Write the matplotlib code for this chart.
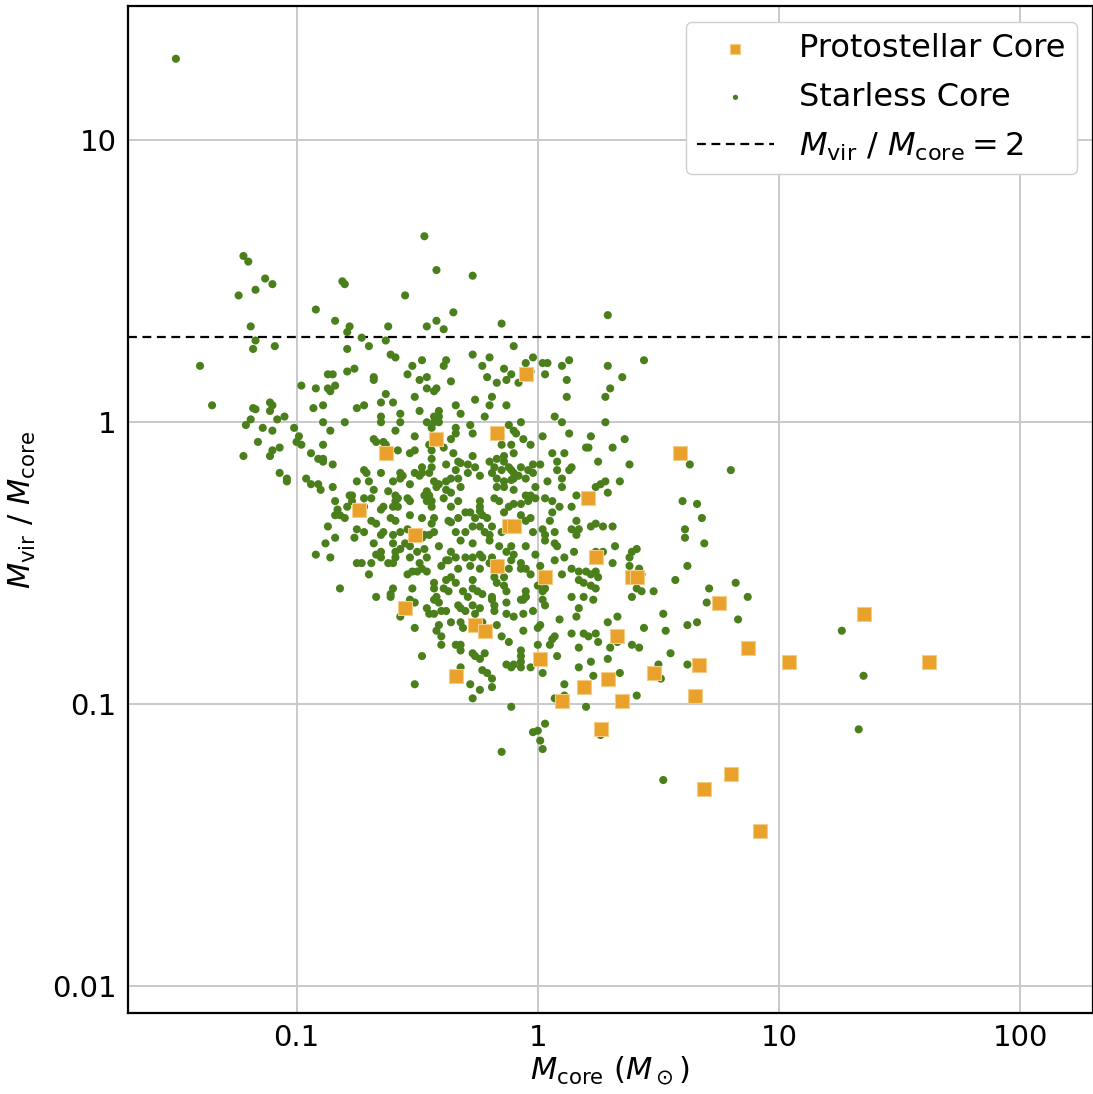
import numpy as np
import matplotlib
matplotlib.use("Agg")
import matplotlib.pyplot as plt

# log10 of core mass (Msun) and of M_vir / M_core
log_m_starless = [
    -1.50, -1.22, -1.20, -1.13, -1.10, -1.24, -1.17, -1.19, -1.17, -1.18,
    -1.09, -1.40, -0.92, -0.81, -0.80, -0.55, -0.84, -0.78, -0.79, -0.73,
    -0.62, -0.63, -0.70, -0.79, -0.61, -0.59, -0.52, -0.54, -0.87, -0.85,
    -0.79, -0.76, -0.68, -0.47, -0.42, -0.27, -0.35, -0.42, -0.46, -0.39,
    -0.15, 0.29, -0.10, -0.02, -0.27, -0.20, -0.48, -0.38, -0.39, -0.23,
    -0.14, -0.05, 0.02, 0.04, 0.10, 0.13, 0.29, 0.44, -0.46, -0.49,
    -0.36, -0.21, -0.11, -0.13, -0.17, -0.08, -0.03, 0.03, 0.12, 0.35,
    0.30, -0.46, -0.42, -0.43, -0.51, -0.19, -0.26, 0.12, 0.28, -1.35,
    -1.18, -1.17, -1.11, -1.10, -1.11, -1.05, -1.08, -1.19, -1.21, -1.14,
    -1.10, -1.01, -0.98, -0.92, -0.87, -0.86, -0.84, -0.93, -0.89, -0.75,
    -0.89, -0.80, -0.86, -0.99, -1.00, -0.98, -1.16, -0.89, -1.07, -1.10,
    -1.11, -1.22, -0.94, -0.91, -0.89, -0.89, -0.85, -1.07, -1.04, -1.04,
    -0.96, -0.94, -0.91, -0.90, -0.85, -0.75, -0.78, -0.77, -0.84, -0.77,
    -0.83, -0.79, -0.84, -0.82, -0.80, -0.87, -0.84, -0.76, -0.75, -0.88,
    -0.92, -0.86, -0.82, -0.75,
    -0.68, -0.63, -0.72, -0.65, -0.60, -0.34, -0.20, -0.13, -0.65, -0.57,
    -0.49, -0.41, -0.43, -0.41, -0.32, -0.22, -0.65, -0.57, -0.46, -0.43,
    -0.41, -0.28, -0.12, -0.59, -0.44, -0.34, -0.34, -0.27, -0.10, -0.09,
    -0.68, -0.67, -0.51, -0.36, -0.39, -0.64, -0.63, -0.45, -0.44, -0.15,
    -0.11, -0.58, -0.53, -0.51,
    -0.35, -0.27, -0.44, -0.33, -0.32, -0.20, -0.17, -0.14, -0.14, -0.10,
    -0.29, -0.26, -0.38, -0.48, -0.44, -0.18, -0.15, -0.12, -0.72, -0.71,
    -0.57, -0.56, -0.57, -0.51, -0.49, -0.48, -0.45, -0.34, -0.29, -0.24,
    -0.19, -0.17, -0.11, -0.10, -0.65, -0.38, -0.36, -0.33, -0.70, -0.60,
    -0.43, -0.14, -0.11, -0.10, -0.68, -0.62, -0.53, -0.41, -0.42, -0.46,
    -0.45, -0.47, -0.38, -0.36, -0.32, -0.17, -0.14, -0.10, -0.59, -0.58,
    -0.59, -0.72, -0.69, -0.54, -0.53, -0.46, -0.44, -0.39, -0.33, -0.24,
    -0.24, -0.18, -0.16, -0.12, -0.10, -0.72, -0.64, -0.65, -0.60, -0.58,
    -0.44, -0.36, -0.30, -0.28, -0.24, -0.23, -0.21, -0.14, -0.69, -0.67,
    -0.61, -0.59, -0.53, -0.48, -0.43, -0.44, -0.37, -0.36, -0.33, -0.26,
    -0.24, -0.27, -0.19, -0.72, -0.64, -0.65, -0.60, -0.57, -0.54, -0.47,
    -0.45, -0.43, -0.34, -0.30, -0.22, -0.20, -0.15,
    0.07, 0.10, -0.07, 0.28, 0.13, 0.02, 0.22, 0.36, -0.06, -0.03,
    0.20, 0.21, 0.31, 0.06, 0.11, 0.25, 0.08, -0.07, -0.02, 0.01,
    -0.04, -0.02, 0.13, 0.14, 0.38, 0.08, -0.08, -0.05, 0.10, 0.04,
    0.28, 0.26, 0.24, 0.34, -0.01, 0.10, 0.29, 0.16, -0.05, -0.03,
    -0.01, -0.04, 0.03, -0.07, 0.06, 0.09, 0.06, 0.14, -0.07, -0.05,
    -0.03, 0.05, 0.16, 0.22, 0.24, 0.27, 0.31, -0.02, 0.02, 0.07,
    0.14, 0.17, 0.16, 0.03,
    -0.68, -0.60, -0.55, -0.48, -0.41, -0.32, -0.27, -0.20, -0.16, -0.11,
    -0.65, -0.67, -0.65, -0.59, -0.57, -0.59, -0.53, -0.50, -0.53, -0.47,
    -0.46, -0.36, -0.34, -0.37, -0.30, -0.27, -0.24, -0.23, -0.19, -0.20,
    -0.13, -0.11, -0.10, -0.73, -0.69, -0.62, -0.60, -0.49, -0.48, -0.40,
    -0.38, -0.33, -0.28, -0.24, -0.12, -0.70, -0.54, -0.52, -0.50, -0.46,
    -0.36, -0.38, -0.34, -0.27, -0.18, -0.14, -0.17, -0.43, -0.43, -0.60,
    -0.61, -0.52, -0.39, -0.37, -0.31, -0.29, -0.27, -0.25, -0.23, -0.19,
    -0.19, -0.18, -0.14, -0.13, -0.67, -0.61, -0.42, -0.41, -0.43, -0.53,
    -0.51, -0.33, -0.32, -0.40, -0.38, -0.46, -0.45, -0.43, -0.27, -0.24,
    -0.13, -0.57, -0.30, -0.18, -0.13, -0.10, -0.26, -0.51, -0.41, -0.42,
    -0.40, -0.36, -0.32, -0.31, -0.23, -0.17, -0.15, -0.12, -0.34, -0.32,
    -0.32, -0.40, -0.27, -0.26, -0.22, -0.48, -0.24, -0.13, -0.11, -0.10,
    -0.32, -0.23, -0.21, -0.19, -0.51, -0.28, -0.19, -0.24, -0.27,
    -0.05, 0.03, 0.07, 0.08, 0.32, 0.24, 0.27, 0.38, 0.39, 0.41,
    -0.01, 0.15, 0.11, 0.07, -0.07, -0.07, -0.05, -0.03, 0.01, 0.31,
    0.38, 0.42, 0.43, 0.10, 0.14, 0.17, 0.20, 0.22, 0.24, 0.25,
    0.17, 0.19, 0.22, 0.24, 0.57, 0.00, 0.02, 0.03, -0.05, -0.05,
    0.41, 0.43, 0.48, 0.39, -0.07, -0.06, -0.05, 0.02, 0.03, 0.14,
    0.19, 0.23, 0.17, -0.02, -0.06, 0.16, 0.09, 0.33, 0.29, 0.52,
    0.01, 0.00, 0.44, 0.53, -0.06, 0.14, 0.19, 0.21, 0.24, 0.07,
    0.06, 0.25, 0.05, 0.00, 0.33, 0.39, 0.42, 0.30, 0.17, 0.55,
    -0.07, -0.07, 0.08, 0.29, 0.22, 0.17, -0.07, -0.07, -0.03, 0.02,
    0.50, 0.51, 0.23, 0.34, 0.11, 0.07, 0.11, 0.41,
    0.63, 0.80, 0.60, 0.66, 0.68, 0.61, 0.61, 0.69, 0.62, 0.71,
    0.82, 0.70, 0.87, 0.62, 0.66, 0.83, 0.62, 1.26, 1.35,
    -0.11, 0.20, 0.03, -0.02, 0.00, 0.01, 0.02, -0.15, 0.26, 0.52, 1.33,
]
log_ratio_starless = [
    1.29, 0.59, 0.57, 0.51, 0.49, 0.45, 0.47, 0.34, 0.29, 0.26,
    0.27, 0.20, 0.40, 0.50, 0.49, 0.45, 0.36, 0.34, 0.32, 0.30,
    0.34, 0.29, 0.27, 0.26, 0.24, 0.23, 0.20, 0.17, 0.17, 0.17,
    0.18, 0.19, 0.16, 0.66, 0.54, 0.52, 0.39, 0.36, 0.34, 0.33,
    0.35, 0.38, 0.27, 0.23, 0.24, 0.23, 0.22, 0.22, 0.20, 0.20,
    0.19, 0.21, 0.21, 0.21, 0.20, 0.22, 0.20, 0.22, 0.16, 0.15,
    0.145, 0.16, 0.17, 0.15, 0.14, 0.14, 0.18, 0.17, 0.15, 0.16,
    0.12, 0.12, 0.12, 0.11, 0.09, 0.09, 0.08, 0.09, 0.09, 0.06,
    0.05, 0.046, 0.07, 0.06, 0.04, 0.02, 0.01, 0.01, -0.01, -0.02,
    -0.03, -0.02, 0.13, 0.12, 0.12, 0.11, 0.13, 0.05, 0.06, 0.05,
    0.00, 0.00, -0.03, -0.05, -0.07, -0.08, -0.07, -0.08, -0.09, -0.10,
    -0.12, -0.12, -0.11, -0.13, -0.13, -0.14, -0.15, -0.18, -0.20, -0.21,
    -0.20, -0.22, -0.22, -0.24, -0.23, -0.21, -0.26, -0.26, -0.28, -0.28,
    -0.31, -0.30, -0.33, -0.33, -0.34, -0.37, -0.41, -0.41, -0.38, -0.43,
    -0.47, -0.48, -0.59, -0.50,
    0.15, 0.10, 0.06, 0.07, 0.07, 0.06, 0.06, 0.06, 0.02, 0.03,
    0.04, 0.04, 0.02, 0.02, 0.03, 0.02, 0.00, 0.00, 0.00, 0.00,
    0.00, -0.01, -0.01, -0.03, -0.02, -0.02, -0.04, -0.04, -0.03, -0.04,
    -0.06, -0.07, -0.05, -0.06, -0.09, -0.07, -0.08, -0.08, -0.10, -0.08,
    -0.08, -0.10, -0.11, -0.10,
    -0.11, -0.12, -0.13, -0.14, -0.145, -0.14, -0.13, -0.12, -0.14, -0.11,
    -0.15, -0.16, -0.15, -0.16, -0.16, -0.16, -0.17, -0.16, -0.17, -0.18,
    -0.18, -0.19, -0.20, -0.18, -0.19, -0.18, -0.18, -0.17, -0.18, -0.19,
    -0.18, -0.20, -0.17, -0.18, -0.18, -0.21, -0.20, -0.20, -0.21, -0.21,
    -0.21, -0.21, -0.205, -0.20, -0.24, -0.245, -0.22, -0.22, -0.23, -0.245,
    -0.26, -0.26, -0.24, -0.25, -0.23, -0.23, -0.23, -0.24, -0.26, -0.27,
    -0.28, -0.27, -0.27, -0.27, -0.28, -0.28, -0.28, -0.27, -0.28, -0.28,
    -0.30, -0.27, -0.28, -0.30, -0.29, -0.30, -0.30, -0.31, -0.30, -0.30,
    -0.30, -0.30, -0.32, -0.32, -0.315, -0.33, -0.34, -0.32, -0.35, -0.36,
    -0.34, -0.35, -0.33, -0.34, -0.34, -0.36, -0.35, -0.355, -0.34, -0.34,
    -0.37, -0.37, -0.37, -0.39, -0.39, -0.40, -0.40, -0.39, -0.38, -0.40,
    -0.40, -0.39, -0.39, -0.39, -0.39, -0.40, -0.39,
    0.02, 0.00, 0.00, 0.00, -0.04, -0.05, -0.05, -0.06, -0.06, -0.08,
    -0.09, -0.09, -0.09, -0.11, -0.11, -0.14, -0.14, -0.16, -0.15, -0.15,
    -0.17, -0.18, -0.17, -0.16, -0.15, -0.17, -0.19, -0.20, -0.20, -0.21,
    -0.21, -0.22, -0.23, -0.21, -0.23, -0.23, -0.25, -0.26, -0.26, -0.26,
    -0.27, -0.28, -0.27, -0.29, -0.28, -0.30, -0.32, -0.30, -0.33, -0.35,
    -0.34, -0.35, -0.35, -0.37, -0.36, -0.37, -0.37, -0.39, -0.38, -0.39,
    -0.38, -0.38, -0.40, -0.40,
    -0.43, -0.43, -0.43, -0.41, -0.44, -0.42, -0.43, -0.42, -0.44, -0.44,
    -0.46, -0.47, -0.48, -0.46, -0.45, -0.48, -0.44, -0.46, -0.48, -0.45,
    -0.48, -0.46, -0.48, -0.49, -0.48, -0.48, -0.47, -0.48, -0.48, -0.50,
    -0.46, -0.49, -0.47, -0.50, -0.50, -0.50, -0.50, -0.50, -0.52, -0.51,
    -0.49, -0.52, -0.51, -0.52, -0.52, -0.54, -0.54, -0.53, -0.53, -0.53,
    -0.55, -0.56, -0.57, -0.56, -0.55, -0.55, -0.57, -0.57, -0.59, -0.59,
    -0.61, -0.59, -0.59, -0.60, -0.60, -0.62, -0.59, -0.60, -0.61, -0.62,
    -0.63, -0.65, -0.58, -0.60, -0.62, -0.62, -0.62, -0.64, -0.63, -0.63,
    -0.64, -0.65, -0.66, -0.67, -0.67, -0.66, -0.68, -0.68, -0.65, -0.66,
    -0.64, -0.69, -0.67, -0.67, -0.68, -0.69, -0.68, -0.73, -0.72, -0.74,
    -0.76, -0.71, -0.71, -0.73, -0.71, -0.72, -0.76, -0.78, -0.79, -0.79,
    -0.81, -0.79, -0.82, -0.83, -0.82, -0.83, -0.84, -0.86, -0.87, -0.86,
    -0.87, -0.88, -0.89, -0.91, -0.93, -0.93, -0.94, -0.95, -0.98,
    -0.44, -0.42, -0.43, -0.44, -0.44, -0.46, -0.46, -0.48, -0.46, -0.45,
    -0.47, -0.46, -0.48, -0.49, -0.50, -0.52, -0.52, -0.54, -0.51, -0.50,
    -0.51, -0.52, -0.54, -0.54, -0.52, -0.53, -0.53, -0.54, -0.53, -0.55,
    -0.56, -0.57, -0.58, -0.59, -0.56, -0.58, -0.60, -0.59, -0.60, -0.62,
    -0.59, -0.60, -0.60, -0.62, -0.63, -0.63, -0.62, -0.63, -0.65, -0.62,
    -0.62, -0.63, -0.66, -0.67, -0.68, -0.69, -0.70, -0.69, -0.71, -0.68,
    -0.72, -0.73, -0.73, -0.74, -0.74, -0.75, -0.75, -0.76, -0.75, -0.76,
    -0.77, -0.78, -0.79, -0.79, -0.78, -0.79, -0.80, -0.80, -0.80, -0.82,
    -0.81, -0.83, -0.83, -0.84, -0.85, -0.87, -0.85, -0.87, -0.87, -0.89,
    -0.86, -0.91, -0.90, -0.89, -0.93, -0.98, -0.97, -0.97,
    -0.15, -0.17, -0.28, -0.29, -0.34, -0.38, -0.41, -0.43, -0.51, -0.59,
    -0.57, -0.64, -0.62, -0.72, -0.71, -0.70, -0.86, -0.74, -0.90,
    -1.01, -1.01, -1.07, -1.10, -1.095, -1.13, -1.16, -1.17, -1.11, -1.27, -1.09,
]

log_m_proto = [
    -0.05, -0.42, -0.63, -0.17, 0.59, -0.74, -0.51, -0.12, -0.10, 0.21,
    0.24, -0.17, 0.03, 0.39, 0.41, -0.55, -0.26, -0.22, 0.75, 0.33,
    1.35, 0.87, 1.04, 1.62, 0.01, 0.67, 0.48, -0.34, 0.29, 0.19,
    0.65, 0.10, 0.35, 0.26, 0.80, 0.69, 0.92,
]
log_ratio_proto = [
    0.17, -0.06, -0.11, -0.04, -0.11, -0.31, -0.40, -0.37, -0.37, -0.27,
    -0.48, -0.51, -0.55, -0.55, -0.55, -0.66, -0.72, -0.74, -0.64, -0.76,
    -0.68, -0.80, -0.85, -0.85, -0.84, -0.86, -0.89, -0.90, -0.91, -0.94,
    -0.97, -0.99, -0.99, -1.09, -1.25, -1.30, -1.45,
]

ratio_limit = 2.0
x_ticks = [0.1, 1, 10, 100]
x_tick_labels = ["0.1", "1", "10", "100"]
y_ticks = [0.01, 0.1, 1, 10]
y_tick_labels = ["0.01", "0.1", "1", "10"]

assert len(log_m_starless) == len(log_ratio_starless)
assert len(log_m_proto) == len(log_ratio_proto)

m_starless = 10 ** np.array(log_m_starless)
r_starless = 10 ** np.array(log_ratio_starless)
m_proto = 10 ** np.array(log_m_proto)
r_proto = 10 ** np.array(log_ratio_proto)

green = "#4a7f1c"
orange = "#e9a12b"

fig = plt.figure(figsize=(10.93, 10.94), dpi=100)
ax = fig.add_axes([0.117, 0.074, 0.883, 0.9205])

ax.scatter(m_starless, r_starless, s=34, color=green, edgecolors="none",
           label="Starless Core", zorder=3)
ax.scatter(m_proto, r_proto, s=115, marker="s", color=orange,
           edgecolors="#f3cc85", linewidths=0.8, label="Protostellar Core", zorder=4)
ax.axhline(ratio_limit, color="black", ls="--", lw=1.6, dashes=(4, 2.5),
           label=r"$M_{\rm vir}$ / $M_{\rm core} = 2$", zorder=2)

ax.set_xscale("log")
ax.set_yscale("log")
ax.set_xlim(0.02, 200)
ax.set_ylim(0.008, 30)
ax.set_xticks(x_ticks)
ax.set_xticklabels(x_tick_labels)
ax.set_yticks(y_ticks)
ax.set_yticklabels(y_tick_labels)
ax.minorticks_off()
ax.tick_params(which="both", direction="in", length=0, labelsize=21, pad=8)
ax.grid(True, color="#c9c9c9", lw=1.4)
ax.set_axisbelow(True)
for sp in ax.spines.values():
    sp.set_linewidth(1.6)

ax.set_xlabel(r"$M_{\rm core}$ ($M_\odot$)", fontsize=22, labelpad=2)
ax.set_ylabel(r"$M_{\rm vir}$ / $M_{\rm core}$", fontsize=22, labelpad=10)

handles, labels = ax.get_legend_handles_labels()
order = [labels.index("Protostellar Core"), labels.index("Starless Core"),
         labels.index(r"$M_{\rm vir}$ / $M_{\rm core} = 2$")]
ax.legend([handles[i] for i in order], [labels[i] for i in order],
          loc="upper right", fontsize=23, markerscale=0.65, framealpha=1,
          edgecolor="#d0d0d0", handlelength=2.4, borderaxespad=0.5,
          labelspacing=0.55, borderpad=0.35)

fig.savefig("out.png", dpi=100)
